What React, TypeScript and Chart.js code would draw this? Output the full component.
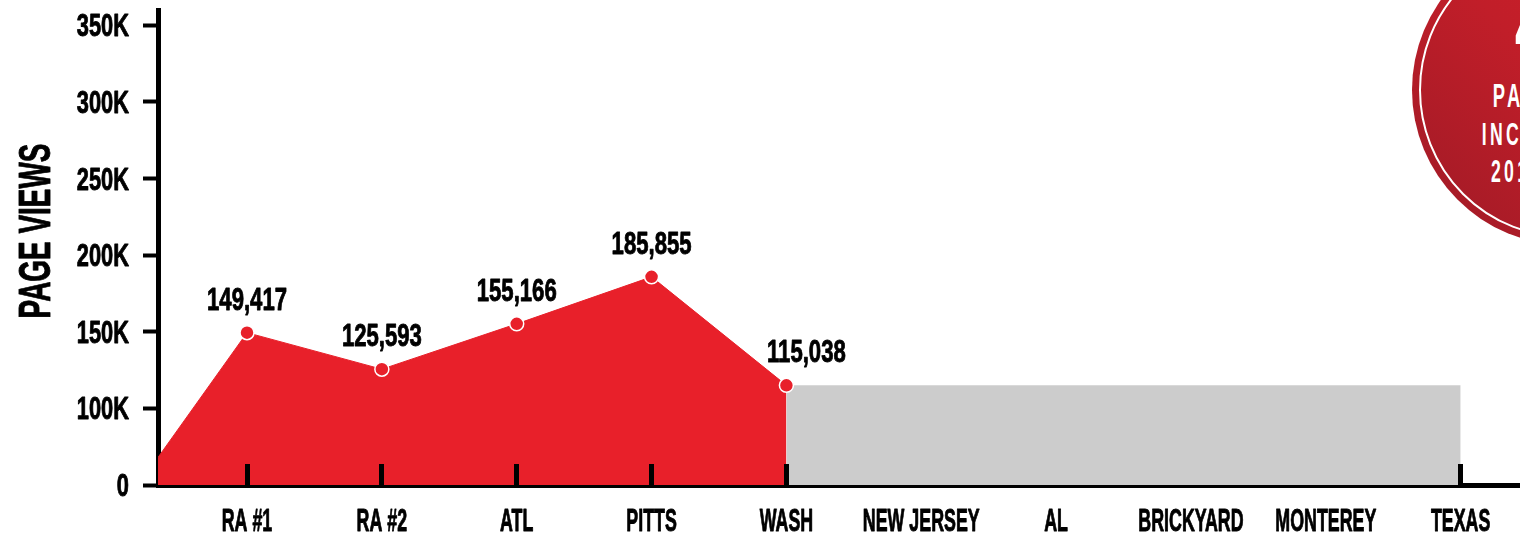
import React, { useEffect, useRef } from "react";
import { Chart, registerables } from "chart.js";

Chart.register(...registerables);

// ---------- data ----------
const categories = ["RA #1", "RA #2", "ATL", "PITTS", "WASH", "NEW JERSEY", "AL", "BRICKYARD", "MONTEREY", "TEXAS"];
const pageViews: (number | null)[] = [149417, 125593, 155166, 185855, 115038, null, null, null, null, null];
const projected: (number | null)[] = [null, null, null, null, 115038, 115038, 115038, 115038, 115038, 115038];
const leadInValue = 68000;
const yTickValues = [50000, 100000, 150000, 200000, 250000, 300000, 350000];
const yTickLabels = ["0", "100K", "150K", "200K", "250K", "300K", "350K"];
const yTitle = "PAGE VIEWS";
const badgeLines = ["40%", "PAGE VIEWS", "INCREASE FROM", "2018 TO 2019"];

// ---------- styling ----------
const FONT = "'Liberation Sans', Arimo, Arial, sans-serif";
const CAP = 0.716;
const RED = "#E8202A";
const GRAY = "#CCCCCC";
const X_MIN = -0.66;
const X_MAX = 9.44;

const redData = [
  { x: X_MIN, y: leadInValue },
  ...pageViews.map((v, i) => ({ x: i, y: v })).filter((p) => p.y != null),
];
const grayData = projected.map((v, i) => ({ x: i, y: v })).filter((p) => p.y != null);

function drawText(
  ctx: CanvasRenderingContext2D,
  text: string,
  x: number,
  y: number,
  capH: number,
  sx: number,
  align: CanvasTextAlign,
  rot = 0
) {
  const size = capH / CAP;
  ctx.save();
  ctx.translate(x, y);
  if (rot) ctx.rotate(rot);
  ctx.scale(sx, 1);
  ctx.font = `bold ${size}px ${FONT}`;
  ctx.textAlign = align;
  ctx.textBaseline = "alphabetic";
  ctx.fillStyle = "#000";
  ctx.strokeStyle = "#000";
  ctx.lineWidth = 0.9;
  ctx.lineJoin = "round";
  ctx.fillText(text, 0, 0);
  ctx.strokeText(text, 0, 0);
  ctx.restore();
}

const marksPlugin = {
  id: "marks",
  afterDraw(chart: any) {
    const ctx: CanvasRenderingContext2D = chart.ctx;
    const xs = chart.scales.x;
    const ys = chart.scales.y;
    const area = chart.chartArea;
    ctx.save();
    // x tick marks (inside the plot, at measured points and the series end)
    ctx.fillStyle = "#000";
    const idx: number[] = [];
    pageViews.forEach((v, i) => { if (v != null) idx.push(i); });
    idx.push(categories.length - 1);
    idx.forEach((i) => {
      const px = xs.getPixelForValue(i);
      ctx.fillRect(Math.round(px - 2.5), area.bottom - 21, 5, 21);
    });
    // x labels
    categories.forEach((c, i) => {
      drawText(ctx, c, xs.getPixelForValue(i), area.bottom + 46, 22, 0.58, "center");
    });
    // y labels
    yTickValues.forEach((v, i) => {
      drawText(ctx, yTickLabels[i], 129, ys.getPixelForValue(v) + 11, 22, 0.71, "right");
    });
    // y title
    drawText(ctx, yTitle, 50, 231, 32, 0.625, "center", -Math.PI / 2);
    // value labels
    const meta = chart.getDatasetMeta(0);
    const last = meta.data.length - 1;
    meta.data.forEach((pt: any, j: number) => {
      if (j === 0) return;
      const v = redData[j].y as number;
      drawText(ctx, v.toLocaleString("en-US"), pt.x + (j === last ? 20 : 0), pt.y - 23, 22, 0.72, "center");
    });
    ctx.restore();
  },
};

function Badge() {
  const cx = 1567, cy = 90, r = 155;
  const caps = [60, 24, 23, 23];
  const baselines = [57, 107, 145, 182];
  const scales = [0.62, 0.55, 0.55, 0.55];
  return (
    <div
      style={{
        position: "absolute",
        left: cx - r,
        top: cy - r,
        width: r * 2,
        height: r * 2,
        borderRadius: "50%",
        background: "linear-gradient(225deg, #D8202A 0%, #C11E29 50%, #9E1A26 100%)",
        overflow: "hidden",
      }}
    >
      <div
        style={{
          position: "absolute",
          left: 7,
          top: 7,
          right: 7,
          bottom: 7,
          borderRadius: "50%",
          border: "2px solid #fff",
        }}
      />
      {badgeLines.map((t, i) => {
        const size = caps[i] / CAP;
        return (
          <div
            key={i}
            style={{
              position: "absolute",
              left: 0,
              width: r * 2,
              textAlign: "center",
              top: baselines[i] - (cy - r) - 0.8465 * size,
              fontFamily: FONT,
              fontWeight: "bold",
              fontSize: size,
              lineHeight: "1",
              letterSpacing: i === 0 ? 0 : 6,
              color: "#fff",
              whiteSpace: "nowrap",
              transform: `scaleX(${scales[i]})`,
              transformOrigin: "50% 50%",
            }}
          >
            {t}
          </div>
        );
      })}
    </div>
  );
}

export default function App() {
  const ref = useRef<HTMLCanvasElement>(null);
  useEffect(() => {
    document.body.style.margin = "0";
    const chart = new Chart(ref.current as HTMLCanvasElement, {
      type: "line",
      data: {
        datasets: [
          {
            label: "Page views",
            data: redData as any,
            borderColor: RED,
            borderWidth: 1,
            backgroundColor: RED,
            fill: "start",
            tension: 0,
            pointRadius: (c: any) => (c.dataIndex === 0 ? 0 : 7),
            pointBackgroundColor: RED,
            pointBorderColor: "#fff",
            pointBorderWidth: 1.5,
          },
          {
            label: "Projected",
            data: grayData as any,
            borderColor: GRAY,
            borderWidth: 0,
            backgroundColor: GRAY,
            fill: "start",
            tension: 0,
            pointRadius: 0,
          },
        ],
      },
      options: {
        responsive: false,
        animation: false,
        devicePixelRatio: 1,
        layout: { autoPadding: false, padding: { top: 10, right: 0, left: 0, bottom: 0 } },
        plugins: { legend: { display: false }, tooltip: { enabled: false } },
        scales: {
          x: {
            type: "linear",
            min: X_MIN,
            max: X_MAX,
            z: 1,
            afterBuildTicks: (s: any) => {
              s.ticks = categories.map((_, i) => ({ value: i }));
            },
            afterFit: (s: any) => {
              s.height = 51;
              s.paddingLeft = 0;
              s.paddingRight = 0;
            },
            ticks: { display: false },
            grid: { display: false },
            border: { display: true, color: "#000", width: 5 },
          },
          y: {
            type: "linear",
            min: 50000,
            max: 360000,
            z: 1,
            afterBuildTicks: (s: any) => {
              s.ticks = yTickValues.map((v) => ({ value: v }));
            },
            afterFit: (s: any) => {
              s.width = 158;
              s.paddingTop = 0;
              s.paddingBottom = 0;
            },
            ticks: { display: false },
            grid: {
              display: true,
              drawOnChartArea: false,
              drawTicks: true,
              tickLength: 15,
              tickWidth: 4,
              tickColor: "#000",
              color: "#000",
            },
            border: { display: true, color: "#000", width: 5 },
          },
        },
      },
      plugins: [marksPlugin],
    } as any);
    return () => chart.destroy();
  }, []);
  return (
    <div style={{ position: "relative", width: 1520, height: 536, overflow: "hidden", background: "#fff" }}>
      <canvas ref={ref} width={1520} height={536} style={{ display: "block", width: 1520, height: 536 }} />
      <Badge />
    </div>
  );
}
